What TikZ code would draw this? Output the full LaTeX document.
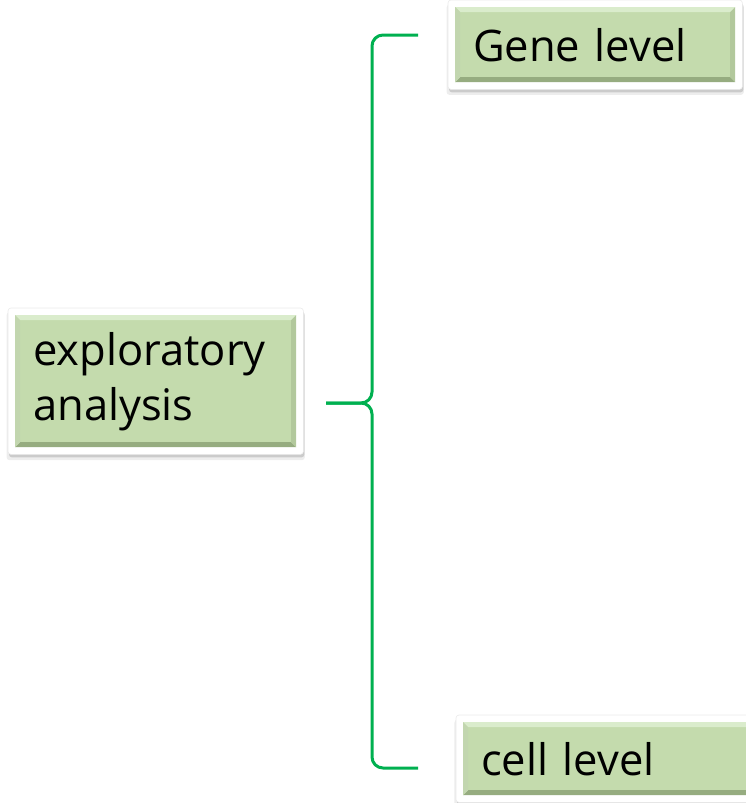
\documentclass[tikz,border=0pt]{standalone}
\usepackage{fontspec}
\setmainfont{Open Sans}
\usetikzlibrary{shadows,fit,backgrounds,calc}
\definecolor{boxgreen}{RGB}{196,219,173}
\definecolor{bevlight}{RGB}{218,236,204}
\definecolor{bevdark}{RGB}{150,172,128}
\definecolor{bevmid}{RGB}{178,200,156}
\definecolor{bracegreen}{RGB}{0,176,80}
\tikzset{
  gbox/.style={fill=boxgreen, anchor=north west, align=left, inner xsep=18pt, inner ysep=0pt,
    font=\fontsize{43.5}{55}\selectfont,
    path picture={
      \fill[bevlight] (path picture bounding box.north west) -- (path picture bounding box.north east)
        -- ([shift={(-5pt,-5pt)}]path picture bounding box.north east) -- ([shift={(5pt,-5pt)}]path picture bounding box.north west) -- cycle;
      \fill[bevdark] (path picture bounding box.south west) -- (path picture bounding box.south east)
        -- ([shift={(-5pt,5pt)}]path picture bounding box.south east) -- ([shift={(5pt,5pt)}]path picture bounding box.south west) -- cycle;
      \fill[bevmid!60!bevlight] (path picture bounding box.north west) -- ([shift={(5pt,-5pt)}]path picture bounding box.north west)
        -- ([shift={(5pt,5pt)}]path picture bounding box.south west) -- (path picture bounding box.south west) -- cycle;
      \fill[bevmid] (path picture bounding box.north east) -- ([shift={(-5pt,-5pt)}]path picture bounding box.north east)
        -- ([shift={(-5pt,5pt)}]path picture bounding box.south east) -- (path picture bounding box.south east) -- cycle;
    }},
  frame/.style={fill=white, draw=black!8, line width=0.6pt, rounded corners=3pt, inner sep=7pt,
    drop shadow={shadow xshift=0pt, shadow yshift=-5pt, fill=black!40, opacity=0.18, shadow scale=1.01},
    drop shadow={shadow xshift=1pt, shadow yshift=-3pt, fill=black!45, opacity=0.35}},
  brace/.style={draw=bracegreen, line width=3pt, rounded corners=11pt}
}
\begin{document}
\begin{tikzpicture}[x=1pt,y=-1pt]
\clip (0,0) rectangle (746,803);
\node[gbox, text width=244pt, minimum height=75pt] (gene) at (455,7) {Gene level};
\node[gbox, text width=245pt, minimum height=132pt] (ea) at (15,315) {exploratory\\analysis};
\node[gbox, text width=260pt, minimum height=73pt] (cell) at (463,722) {cell level};
\begin{scope}[on background layer]
  \node[frame, fit=(gene)] (geneframe) {};
  \node[frame, fit=(ea)] (eaframe) {};
  \node[frame, fit=(cell)] (cellframe) {};
\end{scope}
\coordinate (tip) at (326,403);
\coordinate (mid) at (372,403);
\coordinate (gtop) at (418,35);
\coordinate (gcorner) at (372,35);
\coordinate (cbot) at (418,768);
\coordinate (ccorner) at (372,768);
\draw[brace] (gtop) -- (gcorner) -- (mid) -- (tip);
\draw[brace] (cbot) -- (ccorner) -- (mid) -- (tip);
\end{tikzpicture}
\end{document}
